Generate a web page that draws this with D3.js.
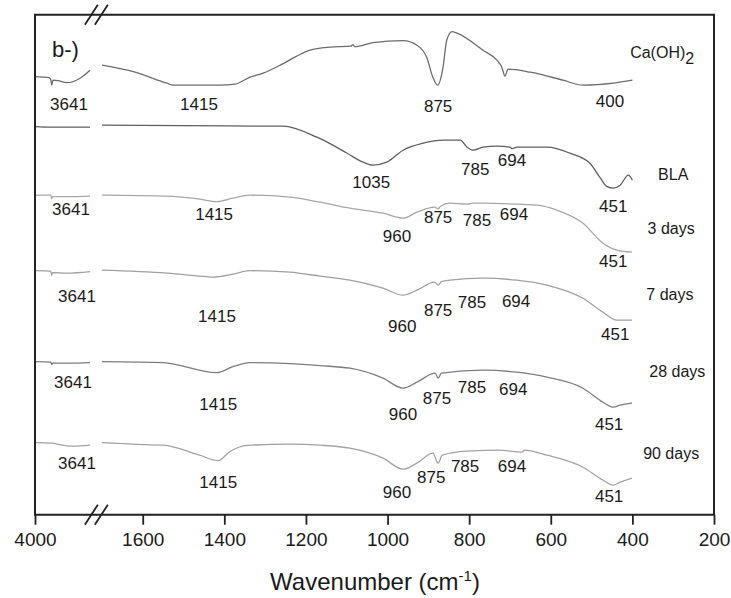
<!DOCTYPE html>
<html><head><meta charset="utf-8">
<script src="https://cdn.jsdelivr.net/npm/d3@7"></script>
<style>
body{margin:0;background:#fff}
svg{display:block}
text{font-family:"Liberation Sans",Arial,Helvetica,sans-serif;fill:#1a1a1a}
</style>
</head><body>
<svg id="c" width="731" height="598"></svg>
<script>
// ---------- data (wavenumber cm-1, transmittance a.u. with offsets) ----------
const seriesNames = ["Ca(OH)2", "BLA", "3 days", "7 days", "28 days", "90 days"];
const seriesColors = ["#6c6c6c", "#5e5e5e", "#a6a6a6", "#a0a0a0", "#7c7c7c", "#a2a2a2"];

const caoh2 = [[4000,87.6],[3700,87.4],[3660,87.0],[3641,85.9],[3613,86.9],[3506,86.8],[3318,86.4],[3032,87.3],[2817,88.9],
 [1700,89.9],[1623,88.6],[1541,86.3],[1525,85.9],[1411,85.9],[1374,86.1],[1337,87.5],[1305,88.3],[1263,89.9],[1225,91.6],[1190,92.9],[1141,93.5],[1090,93.7],[1085,94.0],[1080,93.6],[1036,94.4],[962,94.8],[928,93.9],[904,91.5],[889,87.5],[877,85.9],[864,89.5],[855,94.9],[842,96.6],[830,96.3],[766,92.9],[732,90.9],[720,89.5],[712,87.7],[705,89.1],[650,88.5],[570,86.9],[521,85.9],[447,86.3],[400,86.9]];

const bla = [[4000,77.6],[3641,77.5],[3300,77.5],[2817,77.5],
 [1700,77.9],[1500,77.8],[1256,77.7],[1173,75.5],[1099,72.3],[1060,70.5],[1036,69.9],[1002,70.5],[962,72.9],[913,74.3],[864,74.9],[822,74.9],[805,73.5],[790,72.9],[766,73.5],[732,73.7],[700,73.5],[694,73.2],[683,73.5],[609,73.5],[553,72.3],[504,70.3],[480,67.5],[462,65.6],[447,65.3],[430,65.9],[410,67.9],[400,66.9]];

const d3days = [[4000,63.9],[3700,63.9],[3660,63.9],[3641,63.2],[3620,63.6],[3318,63.6],[2817,63.7],
 [1700,63.9],[1541,63.7],[1460,63.1],[1418,62.6],[1379,63.3],[1337,63.9],[1239,63.5],[1165,62.5],[1092,61.3],[1011,60.3],[962,59.3],[928,60.5],[885,61.5],[876,61.2],[870,61.7],[847,62.3],[805,62.1],[790,62.3],[766,62.3],[683,62.1],[633,61.9],[585,60.9],[521,58.3],[472,54.3],[438,52.9],[401,52.5]];

const d7days = [[4000,48.8],[3660,48.7],[3641,47.9],[3620,48.4],[3318,48.3],[2817,48.6],
 [1700,48.9],[1541,48.3],[1443,47.6],[1427,47.5],[1379,48.1],[1337,48.8],[1239,48.5],[1165,47.7],[1092,46.9],[1011,45.3],[962,43.9],[928,44.9],[885,46.5],[876,45.9],[868,46.6],[847,46.9],[766,47.3],[683,46.9],[609,45.9],[521,43.3],[472,40.5],[438,38.9],[401,38.9]];

const d28days = [[4000,30.6],[3660,30.5],[3641,30.0],[3620,30.3],[3318,30.3],[2817,30.4],
 [1700,30.6],[1550,30.4],[1419,28.4],[1379,29.6],[1337,30.4],[1239,30.2],[1165,29.8],[1092,29.3],[1011,27.3],[962,25.3],[928,26.5],[883,28.3],[876,27.3],[868,28.3],[766,28.9],[683,28.5],[609,27.5],[521,25.3],[472,22.5],[447,21.5],[430,21.9],[401,22.3]];

const d90days = [[4000,14.4],[3641,14.3],[3400,13.9],[3177,13.7],[2817,13.9],
 [1700,14.4],[1623,14.1],[1550,13.9],[1460,11.9],[1415,10.8],[1387,12.6],[1337,13.9],[1239,14.1],[1165,13.9],[1092,13.3],[1011,11.3],[962,9.1],[928,10.3],[889,12.3],[876,10.3],[866,11.9],[805,12.7],[727,12.9],[670,12.5],[665,12.9],[609,11.9],[521,9.5],[472,6.9],[447,5.9],[430,6.5],[401,7.3]];

const seriesData = [caoh2, bla, d3days, d7days, d28days, d90days];

// x axis tick labels
const leftTicks = [4000];
const rightTicks = [1600, 1400, 1200, 1000, 800, 600, 400, 200];

// series name labels: [name, wavenumber, value, subscript]
const seriesLabels = [["Ca(OH)", 327, 91.3, "2"], ["BLA", 300, 66.9], ["3 days", 305, 56.1], ["7 days", 308, 42.9], ["28 days", 290, 27.6], ["90 days", 305, 11.1]];

// peak annotations: [text, wavenumber position, value position]
const peakLabels = [
 ["3641",3269,80.9],["1415",1462,80.9],["875",876,80.6],["400",455,81.5],
 ["1035",1040,65.3],["785",785,67.9],["694",695,69.7],["451",447,60.6],
 ["3641",3226,59.9],["1415",1425,58.9],["960",977,54.6],["875",876,58.4],["785",781,57.8],["694",690,58.9],["451",447,49.5],
 ["3641",3097,42.6],["1415",1418,38.6],["960",964,36.6],["875",876,39.7],["785",793,41.3],["694",685,41.6],["451",442,34.9],
 ["3641",3183,25.3],["1415",1415,20.9],["960",962,18.9],["875",879,22.1],["785",793,24.4],["694",692,23.9],["451",457,16.9],
 ["3641",3097,9.1],["1415",1415,5.3],["960",977,3.3],["875",893,6.4],["785",810,8.6],["694",695,8.6],["451",457,2.6]
];

// ---------- drawing ----------
const svg = d3.select('#c');
const L = 35, R = 714, T = 14.7, B = 514.7;
const xL = d3.scaleLinear().domain([4000, 2800]).range([L, 90.8]);
const xR = d3.scaleLinear().domain([1700, 200]).range([101.9, R]);
const y = d3.scaleLinear().domain([0, 100]).range([B, T]);
const xf = w => (w > 2000 ? xL(w) : xR(w));

const line = d3.line().x(d => xf(d[0])).y(d => y(d[1])).curve(d3.curveMonotoneX);

seriesData.forEach((s, i) => {
  const left = s.filter(d => d[0] > 2000);
  const right = s.filter(d => d[0] <= 2000);
  [left, right].forEach(seg => {
    svg.append('path').attr('d', line(seg)).attr('fill', 'none')
      .attr('stroke', seriesColors[i]).attr('stroke-width', 1.3)
      .attr('stroke-linejoin', 'round');
  });
});

// frame
const frame = svg.append('g').attr('stroke', '#222').attr('stroke-width', 2).attr('fill', 'none');
frame.append('path').attr('d', `M${L},${B}V${T}H${R}V${B}Z`);

// axes
const axR = d3.axisBottom(xR).tickValues(rightTicks).tickSize(10).tickPadding(8).tickFormat(d3.format('d'));
const axL = d3.axisBottom(xL).tickValues(leftTicks).tickSize(10).tickPadding(8).tickFormat(d3.format('d'));
[axR, axL].forEach(ax => {
  const g = svg.append('g').attr('transform', `translate(0,${B})`).call(ax);
  g.select('.domain').remove();
  g.selectAll('line').attr('stroke', '#222').attr('stroke-width', 1.8);
  g.selectAll('text').style('font-size', '19px').style('font-family', '"Liberation Sans",Arial,sans-serif').attr('fill', '#1a1a1a');
});

// axis break marks
const bx = (xL(2800) + xR(1700)) / 2;
[T, B].forEach(yy => {
  [-5, 5].forEach(off => {
    svg.append('line').attr('x1', bx + off - 6.5).attr('y1', yy + 10)
      .attr('x2', bx + off + 6.5).attr('y2', yy - 10)
      .attr('stroke', '#222').attr('stroke-width', 1.8);
  });
});

// axis title
const title = svg.append('text').attr('x', 375).attr('y', 590).attr('text-anchor', 'middle').style('font-size', '24px');
title.append('tspan').text('Wavenumber (cm');
title.append('tspan').text('-1').style('font-size', '15px').attr('dy', -9);
title.append('tspan').text(')').attr('dy', 9);

// panel letter
svg.append('text').attr('x', 52).attr('y', 57).style('font-size', '22px').text('b-)');

// series labels
seriesLabels.forEach(d => {
  const t = svg.append('text').attr('x', xR(d[1])).attr('y', y(d[2])).attr('text-anchor', 'middle').style('font-size', '16px');
  t.append('tspan').text(d[0]);
  if (d[3]) t.append('tspan').text(d[3]).attr('dy', 6).style('font-size', '16px');
});

// peak labels
svg.selectAll('text.pk').data(peakLabels).enter().append('text').attr('class', 'pk')
  .attr('x', d => xf(d[1])).attr('y', d => y(d[2])).attr('text-anchor', 'middle')
  .style('font-size', '17px').text(d => d[0]);
</script>
</body></html>
